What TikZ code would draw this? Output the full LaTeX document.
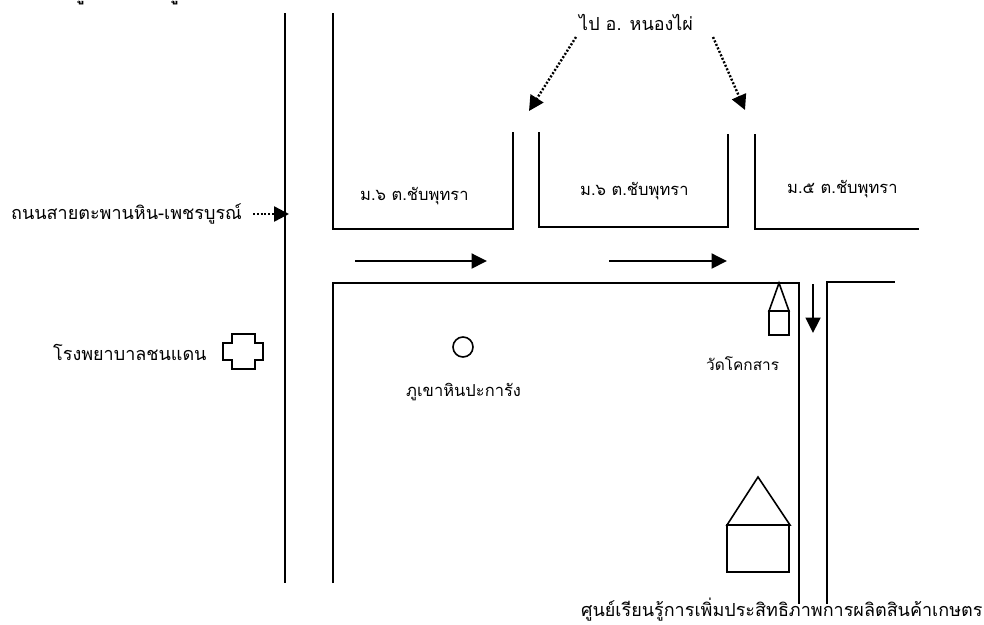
\documentclass[tikz,border=0pt]{standalone}
\usepackage{fontspec}
\usetikzlibrary{arrows.meta}
\newfontfamily\thaifont[Script=Thai]{Loma}
\tikzset{
  road/.style={draw=black,line width=1.7pt},
  flow/.style={draw=black,line width=1.9pt,-{Triangle[length=15.5pt,width=15pt]}},
  dots/.style={draw=black,line width=2.4pt,dash pattern=on 2pt off 1.8pt,-{Triangle[length=15pt,width=15pt]}},
  lab/.style={font=\thaifont\fontsize{18}{21}\selectfont,inner sep=0pt,text=black},
  labm/.style={font=\thaifont\fontsize{16.5}{20}\selectfont,inner sep=0pt,text=black},
  labs/.style={font=\thaifont\fontsize{15.4}{18}\selectfont,inner sep=0pt,text=black},
  frag/.style={font=\thaifont\bfseries\fontsize{18}{21}\selectfont,inner sep=0pt,text=black,anchor=base},
  shapeline/.style={draw=black,line width=1.6pt}
}
\begin{document}
\begin{tikzpicture}[x=1pt,y=-1pt]
\path[use as bounding box] (0,0) rectangle (984,624);
\clip (0,0) rectangle (984,624);
\fill[white] (0,0) rectangle (984,624);
\node[frag] (frag1) at (80,0) {รู};
\node[frag] (frag2) at (174,0) {รู};
\coordinate (rA1) at (285,13); \coordinate (rA2) at (285,583);
\draw[road] (rA1) -- (rA2);
\coordinate (b1) at (333,13); \coordinate (b2) at (333,229); \coordinate (b3) at (513,229); \coordinate (b4) at (513,132);
\draw[road] (b1) -- (b2) -- (b3) -- (b4);
\coordinate (c1) at (539,132); \coordinate (c2) at (539,227); \coordinate (c3) at (728,227); \coordinate (c4) at (728,134);
\draw[road] (c1) -- (c2) -- (c3) -- (c4);
\coordinate (d1) at (755,134); \coordinate (d2) at (755,229); \coordinate (d3) at (919,229);
\draw[road] (d1) -- (d2) -- (d3);
\coordinate (e1) at (333,583); \coordinate (e2) at (333,283); \coordinate (e3) at (799,283); \coordinate (e4) at (799,604);
\draw[road] (e1) -- (e2) -- (e3) -- (e4);
\coordinate (f1) at (827,604); \coordinate (f2) at (827,282); \coordinate (f3) at (895,282);
\draw[road] (f1) -- (f2) -- (f3);
\coordinate (g1) at (355,261); \coordinate (g2) at (487,261);
\draw[flow] (g1) -- (g2);
\coordinate (h1) at (609,261); \coordinate (h2) at (727,261);
\draw[flow] (h1) -- (h2);
\coordinate (i1) at (813,284); \coordinate (i2) at (813,333);
\draw[flow] (i1) -- (i2);
\coordinate (j1) at (576,37); \coordinate (j2) at (529,111);
\draw[dots] (j1) -- (j2);
\coordinate (k1) at (713,37); \coordinate (k2) at (745,110);
\draw[dots] (k1) -- (k2);
\coordinate (l1) at (253,214); \coordinate (l2) at (289,214);
\draw[dots] (l1) -- (l2);
\draw[shapeline] (769,311) -- (779,283) -- (789,311) -- cycle;
\draw[shapeline] (769,311) rectangle (789,335);
\draw[shapeline] (727,525) -- (758,477) -- (790,525) -- cycle;
\draw[shapeline] (727,525) rectangle (789,572);
\node[draw=black,line width=1.6pt,circle,minimum size=20pt,inner sep=0pt] (hill) at (463,347) {};
\draw[shapeline] (232,334) -- (255,334) -- (255,343) -- (263,343) -- (263,360) -- (255,360) -- (255,369) -- (232,369) -- (232,360) -- (223,360) -- (223,343) -- (232,343) -- cycle;
\node[lab,anchor=west] (t1) at (579,22) {ไป อ. หนองไผ่};
\node[lab,anchor=west] (t2) at (11,214) {ถนนสายตะพานหิน-เพชรบูรณ์};
\node[lab,anchor=west] (t3) at (53,352) {โรงพยาบาลชนแดน};
\node[labm,anchor=west] (t4) at (360,196) {ม.๖ ต.ชับพุทรา};
\node[labm,anchor=west] (t5) at (580,191) {ม.๖ ต.ชับพุทรา};
\node[labm,anchor=west] (t6) at (787,189) {ม.๕ ต.ชับพุทรา};
\node[labm,anchor=west] (t7) at (406,392) {ภูเขาหินปะการัง};
\node[labs,anchor=west] (t8) at (706,364) {วัดโคกสาร};
\node[lab,anchor=west] (t9) at (581,610) {ศูนย์เรียนรู้การเพิ่มประสิทธิภาพการผลิตสินค้าเกษตร};
\end{tikzpicture}
\end{document}
